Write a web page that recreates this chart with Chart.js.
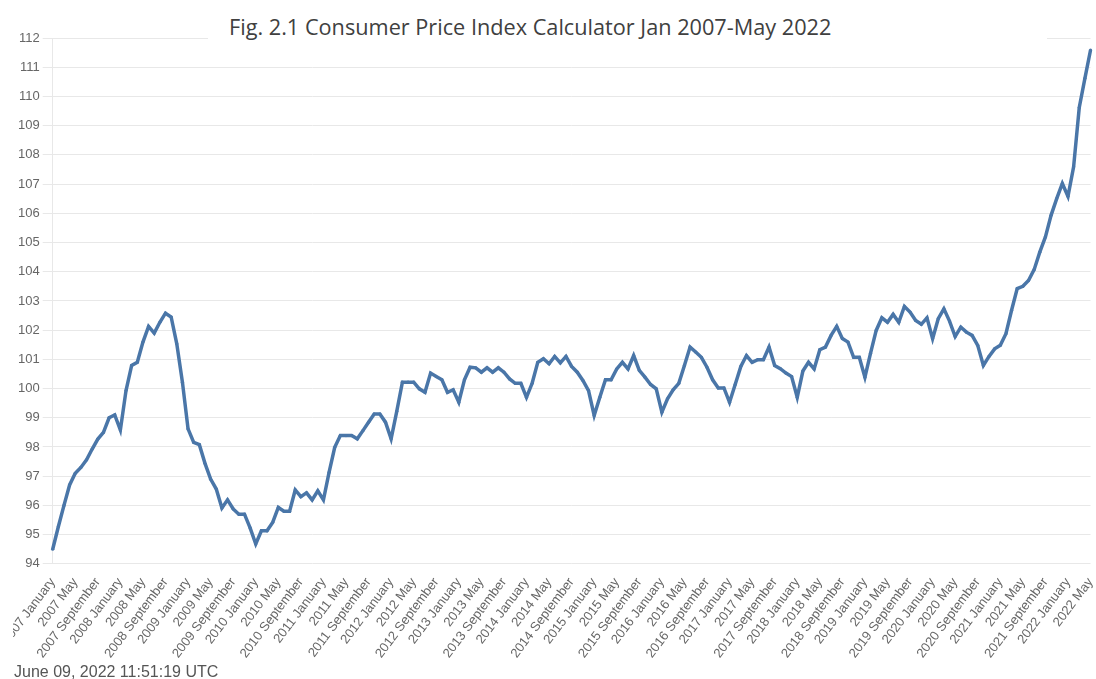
<!DOCTYPE html>
<html>
<head>
<meta charset="utf-8">
<title>Consumer Price Index Calculator</title>
<script src="https://cdn.jsdelivr.net/npm/chart.js@4/dist/chart.umd.min.js"></script>
<style>
  html, body { margin:0; padding:0; background:#fff; overflow:hidden; }
  #wrap { position:absolute; left:0; top:0; width:1106px; height:664px; }
  #cpiChart { clip-path: inset(0 0 0 13px); }
  #title {
    position:absolute; left:208px; top:12px; width:839px; height:30px;
    background:#fff; box-sizing:border-box; padding-left:21px;
    font-family:"Open Sans", "Noto Sans", sans-serif; font-size:21.7px; line-height:30px;
    color:#404040; white-space:nowrap;
  }
  #stamp {
    position:absolute; left:14px; top:663px;
    font-family:Arial, "Liberation Sans", sans-serif; font-size:16px; color:#555;
  }
</style>
</head>
<body>
<div id="wrap"><canvas id="cpiChart"></canvas></div>
<div id="title">Fig. 2.1 Consumer Price Index Calculator Jan 2007-May 2022</div>
<div id="stamp">June 09, 2022 11:51:19 UTC</div>
<script>
// categories
const years = [2007,2008,2009,2010,2011,2012,2013,2014,2015,2016,2017,2018,2019,2020,2021,2022];
const months = ['January','February','March','April','May','June','July','August','September','October','November','December'];

// CPI values per year
const cpi2007 = [94.50,95.27,96.00,96.70,97.10,97.30,97.56,97.93,98.27,98.50,99.00,99.10];
const cpi2008 = [98.58,99.93,100.79,100.90,101.59,102.13,101.90,102.27,102.58,102.45,101.53,100.22];
const cpi2009 = [98.62,98.16,98.08,97.44,96.90,96.56,95.91,96.19,95.88,95.70,95.70,95.23];
const cpi2010 = [94.68,95.13,95.13,95.42,95.93,95.80,95.80,96.53,96.30,96.43,96.19,96.50];
const cpi2011 = [96.19,97.13,97.99,98.39,98.39,98.39,98.28,98.56,98.85,99.13,99.13,98.85];
const cpi2012 = [98.28,99.22,100.22,100.22,100.22,99.99,99.87,100.53,100.41,100.30,99.87,99.96];
const cpi2013 = [99.53,100.30,100.73,100.71,100.56,100.71,100.56,100.71,100.56,100.33,100.18,100.18];
const cpi2014 = [99.70,100.18,100.90,101.02,100.85,101.10,100.88,101.10,100.76,100.56,100.28,99.93];
const cpi2015 = [99.08,99.70,100.30,100.30,100.67,100.90,100.67,101.13,100.62,100.39,100.14,99.99];
const cpi2016 = [99.19,99.65,99.96,100.18,100.79,101.42,101.25,101.07,100.73,100.30,100.02,100.02];
const cpi2017 = [99.53,100.14,100.76,101.13,100.90,100.99,100.99,101.42,100.79,100.68,100.53,100.41];
const cpi2018 = [99.70,100.60,100.90,100.67,101.33,101.42,101.82,102.13,101.71,101.59,101.07,101.07];
const cpi2019 = [100.39,101.21,101.99,102.42,102.27,102.54,102.27,102.81,102.62,102.33,102.20,102.42];
const cpi2020 = [101.71,102.39,102.73,102.31,101.78,102.10,101.93,101.82,101.48,100.79,101.10,101.36];
const cpi2021 = [101.48,101.88,102.68,103.42,103.50,103.70,104.07,104.67,105.19,105.93,106.50,107.02];
const cpi2022 = [106.58,107.59,109.62,110.62,111.59];

// y ticks
const yMin = 94, yMax = 112, yStep = 1;

const cpiValues = [].concat(cpi2007,cpi2008,cpi2009,cpi2010,cpi2011,cpi2012,cpi2013,cpi2014,
  cpi2015,cpi2016,cpi2017,cpi2018,cpi2019,cpi2020,cpi2021,cpi2022);
const labels = [];
years.forEach(y => months.forEach(m => labels.push(y + ' ' + m)));
labels.length = cpiValues.length;

const LINE = '#4a76a8';
const GRID = '#e8e8e8';
const TICK = '#666';
const tickFont = { family: 'Arial, "Liberation Sans", sans-serif', size: 13 };

new Chart(document.getElementById('cpiChart'), {
  type: 'line',
  data: {
    labels: labels,
    datasets: [{
      label: 'CPI',
      data: cpiValues,
      borderColor: LINE,
      backgroundColor: LINE,
      borderWidth: 3.5,
      pointRadius: 1.6,
      pointBorderWidth: 0,
      pointBackgroundColor: LINE,
      tension: 0,
      fill: false
    }]
  },
  options: {
    responsive: true,
    maintainAspectRatio: false,
    animation: false,
    layout: { padding: { left: 15, top: 38, right: 0, bottom: 0 } },
    plugins: {
      legend: { display: false },
      title: { display: false },
      tooltip: { enabled: false }
    },
    scales: {
      x: {
        offset: false,
        grid: { display: false },
        border: { display: false },
        ticks: {
          autoSkip: false,
          minRotation: 53,
          maxRotation: 53,
          padding: 3,
          color: TICK,
          font: tickFont,
          callback: function(val, idx){
            return idx % 4 === 0 ? this.getLabelForValue(val) : '';
          }
        }
      },
      y: {
        min: yMin,
        max: yMax,
        grid: { color: GRID, tickLength: 10, lineWidth: 1 },
        border: { color: GRID },
        ticks: {
          stepSize: yStep,
          padding: 3,
          color: TICK,
          font: tickFont
        }
      }
    }
  }
});
</script>
</body>
</html>
